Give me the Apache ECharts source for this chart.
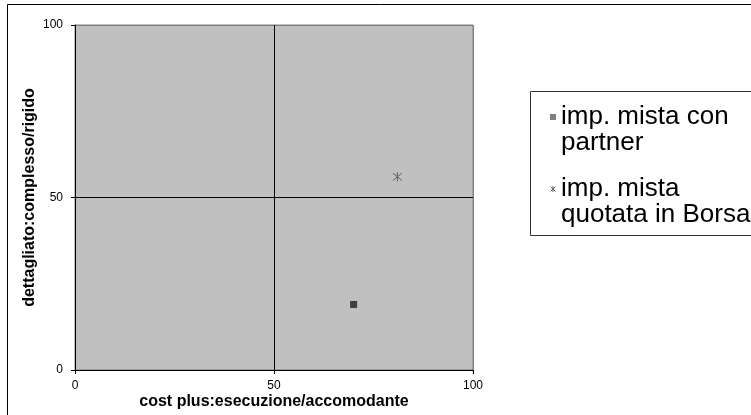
<!DOCTYPE html>
<html>
<head>
<meta charset="utf-8">
<script src="https://cdn.jsdelivr.net/npm/echarts@6/dist/echarts.min.js"></script>
<style>
html,body{margin:0;padding:0;background:#fff;}
#c{width:751px;height:415px;}
</style>
</head>
<body>
<div id="c"></div>
<script>
// ---- data ----
const seriesNames = ['imp. mista con partner', 'imp. mista quotata in Borsa'];
const legendLabels = ['imp. mista con\npartner', 'imp. mista\nquotata in Borsa'];
const partnerPoints = [[70, 19]];
const borsaPoints = [[81, 56]];
const xTicks = [0, 50, 100];
const yTicks = [0, 50, 100];
const xTitle = 'cost plus:esecuzione/accomodante';
const yTitle = 'dettagliato:complesso/rigido';

const FONT = '"Liberation Sans", Arial, sans-serif';
const STAR = 'path://M0,0L10,10M10,0L0,10M5,-1L5,11';
const chart = echarts.init(document.getElementById('c'), null, {renderer: 'canvas'});

function axisCommon(ticks) {
  return {
    type: 'value',
    min: ticks[0],
    max: ticks[ticks.length - 1],
    interval: ticks[1] - ticks[0],
    axisLine: {show: true, onZero: false, lineStyle: {color: '#000', width: 1}},
    axisTick: {show: true, inside: false, length: 4, lineStyle: {color: '#000'}},
    axisLabel: {color: '#000', fontSize: 12, fontFamily: FONT},
    splitLine: {show: true, lineStyle: {color: ['#000', '#000', '#808080'], width: 1}},
    nameLocation: 'middle',
    nameMoveOverlap: false,
    nameTextStyle: {color: '#000', fontSize: 16, fontWeight: 'bold', fontFamily: FONT}
  };
}

const xAx = axisCommon(xTicks);
xAx.name = xTitle; xAx.nameGap = 24; xAx.axisLabel.margin = 10;
const yAx = axisCommon(yTicks);
yAx.name = yTitle; yAx.nameGap = 37; yAx.axisLabel.margin = 12;

const option = {
  backgroundColor: '#fff',
  animation: false,
  graphic: [
    {type: 'rect', shape: {x: 7.5, y: 4.5, width: 800, height: 500}, style: {fill: 'none', stroke: '#000', lineWidth: 1}, z: -10},
    {type: 'rect', shape: {x: 530.5, y: 91.5, width: 300, height: 144}, style: {fill: '#fff', stroke: '#333', lineWidth: 1}, z: -5}
  ],
  grid: {
    left: 75, top: 25, width: 398, height: 345,
    containLabel: false,
    outerBoundsMode: 'none',
    show: true, backgroundColor: '#C0C0C0', borderColor: '#808080', borderWidth: 1
  },
  xAxis: xAx,
  yAxis: yAx,
  legend: {
    orient: 'vertical',
    left: 543,
    top: 73,
    itemGap: -6,
    itemWidth: 6,
    itemHeight: 6,
    formatter: function (n) { return '\n' + legendLabels[seriesNames.indexOf(n)]; },
    textStyle: {color: '#000', fontSize: 26, fontFamily: FONT, lineHeight: 26},
    data: [
      {name: seriesNames[0], icon: 'rect', itemStyle: {color: '#808080'}},
      {name: seriesNames[1], icon: STAR, itemStyle: {color: 'none', borderColor: '#606060', borderWidth: 1}}
    ]
  },
  series: [
    {
      name: seriesNames[0], type: 'scatter', data: partnerPoints,
      symbol: 'rect', symbolSize: 7,
      itemStyle: {color: '#404040', opacity: 1}
    },
    {
      name: seriesNames[1], type: 'scatter', data: borsaPoints,
      symbol: STAR, symbolSize: 9,
      itemStyle: {color: 'none', borderColor: '#606060', borderWidth: 1, opacity: 1}
    }
  ]
};
chart.setOption(option);
</script>
</body>
</html>
